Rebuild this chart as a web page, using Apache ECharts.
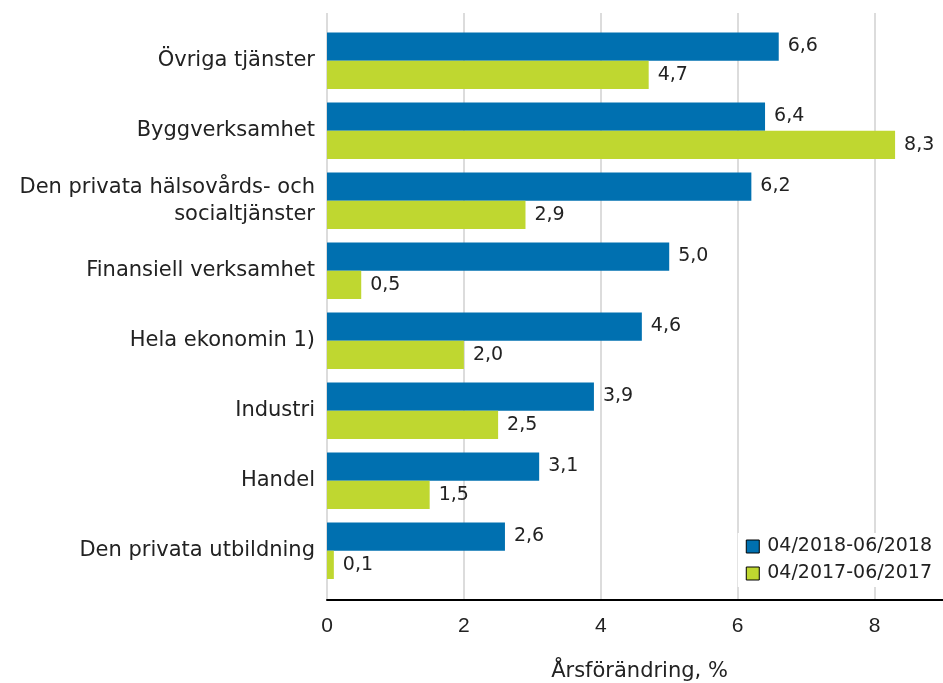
<!DOCTYPE html>
<html><head><meta charset="utf-8">
<script src="https://cdn.jsdelivr.net/npm/echarts@6/dist/echarts.min.js"></script>
<style>html,body{margin:0;padding:0;background:#fff}#c{width:943px;height:683px}</style>
</head><body><div id="c"></div>
<script>
const categories = ["Övriga tjänster","Byggverksamhet","Den privata hälsovårds- och\nsocialtjänster","Finansiell verksamhet","Hela ekonomin 1)","Industri","Handel","Den privata utbildning"];
const series2018 = [6.6,6.4,6.2,5.0,4.6,3.9,3.1,2.6];
const series2017 = [4.7,8.3,2.9,0.5,2.0,2.5,1.5,0.1];
const seriesNames = ["04/2018-06/2018","04/2017-06/2017"];
const xTicks = [0,2,4,6,8];
const axisTitle = "Årsförändring, %";

const FONT = "DejaVu Sans";
const fmt = v => v.toFixed(1).replace('.', ',');
const chart = echarts.init(document.getElementById('c'));
chart.setOption({
  animation:false,
  textStyle:{fontFamily:FONT},
  grid:[
    {left:327,right:0,top:13,bottom:83,containLabel:false,outerBoundsMode:'none'},
    {left:327,right:0,top:25.7,bottom:97.3,containLabel:false,outerBoundsMode:'none'}
  ],
  xAxis:[
    {gridIndex:0,type:'value',min:0,max:9,interval:2,
     axisLine:{show:true,lineStyle:{color:'#000',width:2}},axisTick:{show:false},
     axisLabel:{color:'#222',fontSize:21,margin:16,fontFamily:"Liberation Sans",
       formatter:v=>xTicks.indexOf(v)>=0?String(v):''},
     splitLine:{show:true,showMaxLine:false,lineStyle:{color:'#dcdcdc',width:2}},
     name:axisTitle,nameLocation:'middle',nameGap:61,
     nameTextStyle:{color:'#222',fontSize:21,fontFamily:FONT,padding:[0,0,0,9]}},
    {gridIndex:1,type:'value',min:0,max:9,show:false}
  ],
  yAxis:[
    {gridIndex:0,type:'category',data:categories,show:false},
    {gridIndex:1,type:'category',data:categories,inverse:true,
     axisLine:{show:false},axisTick:{show:false},
     axisLabel:{color:'#222',fontSize:21,margin:12,lineHeight:27,fontFamily:FONT}}
  ],
  legend:{
    orient:'vertical',right:8,top:533,
    itemWidth:13,itemHeight:13,itemGap:8,
    backgroundColor:'#fff',padding:[4,3,4,8],
    icon:'rect',
    itemStyle:{borderColor:'#000',borderWidth:1},
    textStyle:{color:'#222',fontSize:19,fontFamily:FONT,padding:[0,0,0,3]},
    data:seriesNames
  },
  series:[
    {name:seriesNames[0],type:'bar',xAxisIndex:1,yAxisIndex:1,data:series2018,
     barWidth:28.3,barGap:0,
     itemStyle:{color:'#0070b0'},
     label:{show:true,position:'right',distance:9,color:'#222',fontSize:19,fontFamily:FONT,formatter:p=>fmt(p.value)}},
    {name:seriesNames[1],type:'bar',xAxisIndex:1,yAxisIndex:1,data:series2017,
     barWidth:28.3,barGap:0,
     itemStyle:{color:'#bfd730'},
     label:{show:true,position:'right',distance:9,color:'#222',fontSize:19,fontFamily:FONT,formatter:p=>fmt(p.value)}}
  ]
});
</script></body></html>
